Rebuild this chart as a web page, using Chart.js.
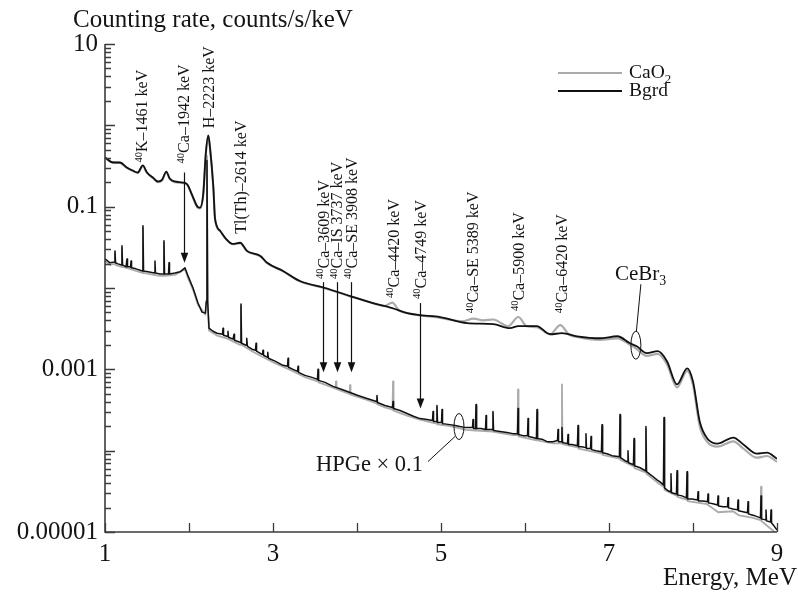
<!DOCTYPE html>
<html><head><meta charset="utf-8">
<script src="https://cdn.jsdelivr.net/npm/chart.js@4.4.1/dist/chart.umd.min.js"></script>
<style>html,body{margin:0;padding:0;background:#fff}canvas{display:block}</style>
</head><body>
<canvas id="c" width="798" height="593"></canvas>
<script>
const FONT = '"Liberation Serif", "Times New Roman", serif';

// ---- Data: [energy (MeV), counting rate (counts/s/keV)] ----
const cebr3Bgrd = [[1.00,0.403],[1.095,0.349],[1.18,0.349],[1.26,0.303],[1.33,0.278],[1.39,0.263],[1.45,0.321],[1.50,0.263],[1.57,0.228],[1.63,0.204],
[1.68,0.215],[1.73,0.270],[1.77,0.222],[1.83,0.204],[1.93,0.198],[1.98,0.187],[2.04,0.137],[2.10,0.100],[2.13,0.0972],[2.17,0.145],
[2.20,0.451],[2.23,0.753],[2.25,0.535],[2.29,0.172],[2.31,0.0711],[2.37,0.0506],[2.44,0.0403],[2.52,0.0349],[2.61,0.0360],[2.69,0.0286],
[2.85,0.0248],[2.93,0.0204],[3.12,0.0162],[3.32,0.0122],[3.62,0.0100],[3.92,0.00796],[4.19,0.00653],[4.42,0.00566],[4.60,0.00491],[4.75,0.00464],
[4.99,0.00439],[5.31,0.00370],[5.62,0.00360],[5.82,0.00321],[5.92,0.00340],[6.14,0.00340],[6.30,0.00270],[6.44,0.00278],[6.62,0.00255],[6.89,0.00241],
[7.10,0.00255],[7.25,0.00209],[7.33,0.00192],[7.45,0.00158],[7.58,0.00167],[7.69,0.00126],[7.81,0.000653],[7.93,0.00103],[8.00,0.000711],[8.08,0.000228],
[8.17,0.000141],[8.29,0.000122],[8.48,0.000145],[8.60,0.000119],[8.76,0.0000918],[8.88,0.0000944],[9.00,0.0000796]];

const cebr3CaO2 = [[1.00,0.40],[1.095,0.35],[1.18,0.345],[1.26,0.30],[1.33,0.275],[1.39,0.26],[1.45,0.315],[1.50,0.26],[1.57,0.225],[1.63,0.20],
[1.68,0.21],[1.73,0.265],[1.77,0.22],[1.83,0.20],[1.93,0.195],[1.98,0.185],[2.04,0.135],[2.10,0.098],[2.13,0.095],[2.17,0.14],
[2.20,0.44],[2.23,0.74],[2.25,0.52],[2.29,0.17],[2.31,0.070],[2.37,0.050],[2.44,0.040],[2.52,0.0345],[2.61,0.0355],[2.69,0.0283],
[2.85,0.0245],[2.93,0.0202],[3.12,0.0160],[3.32,0.0121],[3.62,0.0099],[3.92,0.0079],[4.19,0.0065],[4.32,0.0060],[4.42,0.0066],[4.50,0.0053],
[4.60,0.0049],[4.75,0.0046],[4.99,0.0043],[5.25,0.0039],[5.39,0.0042],[5.50,0.0040],[5.62,0.0041],[5.80,0.0034],[5.92,0.0044],[6.02,0.0034],
[6.14,0.0033],[6.30,0.0027],[6.42,0.0035],[6.52,0.0027],[6.62,0.0025],[6.89,0.0023],[7.10,0.0024],[7.25,0.0020],[7.33,0.00178],[7.45,0.00146],
[7.58,0.00155],[7.69,0.00116],[7.81,0.00060],[7.93,0.00096],[8.00,0.00064],[8.08,0.00020],[8.17,0.000128],[8.29,0.000112],[8.48,0.000130],[8.60,0.000106],
[8.76,0.000082],[8.88,0.000086],[9.00,0.000073]];

const hpgeBgrd = [[1.000,0.0228],[1.060,0.0204],[1.113,0.0209],[1.119,0.0286],[1.125,0.0204],[1.155,0.0198],[1.196,0.0192],[1.202,0.0330],[1.208,0.0192],[1.250,0.0182],
[1.256,0.0182],[1.262,0.0228],[1.268,0.0182],[1.298,0.0182],[1.304,0.0180],[1.310,0.0215],[1.316,0.0177],[1.369,0.0172],[1.446,0.0162],[1.452,0.0583],
[1.458,0.0162],[1.512,0.0158],[1.589,0.0153],[1.595,0.0215],[1.601,0.0153],[1.655,0.0149],[1.696,0.0149],[1.702,0.0380],[1.708,0.0149],[1.756,0.0149],
[1.762,0.0204],[1.768,0.0149],[1.833,0.0153],[1.893,0.0158],[1.952,0.0177],[1.988,0.0141],[2.048,0.0100],[2.107,0.00653],[2.155,0.00505],[2.195,0.00491],
[2.206,0.00691],[2.214,0.370],[2.222,0.00691],[2.238,0.00321],[2.286,0.00294],[2.333,0.00278],[2.399,0.00270],[2.405,0.00321],[2.411,0.00263],[2.452,0.00255],
[2.458,0.00255],[2.464,0.00294],[2.470,0.00248],[2.524,0.00235],[2.530,0.00235],[2.536,0.00270],[2.542,0.00228],[2.607,0.00215],[2.613,0.00215],[2.619,0.00635],
[2.625,0.00209],[2.679,0.00198],[2.684,0.00198],[2.690,0.00241],[2.696,0.00192],[2.750,0.00177],[2.792,0.00172],[2.798,0.00209],[2.804,0.00167],[2.869,0.00153],
[2.875,0.00153],[2.881,0.00172],[2.887,0.00149],[2.929,0.00141],[2.934,0.00141],[2.940,0.00162],[2.946,0.00137],[3.024,0.00126],[3.119,0.00112],[3.173,0.00109],
[3.179,0.00137],[3.185,0.00106],[3.238,0.00100],[3.292,0.000945],[3.298,0.00109],[3.304,0.000918],[3.381,0.000843],[3.464,0.000797],[3.530,0.000753],[3.536,0.00100],
[3.542,0.000732],[3.619,0.000691],[3.714,0.000617],[3.750,0.000600],[3.821,0.000566],[3.917,0.000520],[4.012,0.000477],[4.119,0.000438],[4.232,0.000402],[4.238,0.000477],
[4.244,0.000391],[4.333,0.000359],[4.423,0.000339],[4.429,0.000402],[4.435,0.000330],[4.512,0.000312],[4.595,0.000286],[4.679,0.000263],[4.750,0.000248],[4.833,0.000241],
[4.899,0.000235],[4.905,0.000303],[4.911,0.000228],[4.946,0.000228],[4.952,0.000359],[4.958,0.000222],[5.006,0.000222],[5.012,0.000321],[5.018,0.000215],[5.107,0.000209],
[5.167,0.000204],[5.226,0.000198],[5.298,0.000192],[5.375,0.000192],[5.381,0.000241],[5.387,0.000187],[5.411,0.000187],[5.417,0.000370],[5.423,0.000187],[5.476,0.000187],
[5.530,0.000182],[5.536,0.000270],[5.542,0.000182],[5.613,0.000182],[5.619,0.000303],[5.625,0.000177],[5.702,0.000172],[5.786,0.000167],[5.857,0.000162],[5.911,0.000162],
[5.917,0.000330],[5.923,0.000158],[5.976,0.000153],[6.030,0.000153],[6.036,0.000248],[6.042,0.000149],[6.095,0.000145],[6.137,0.000141],[6.143,0.000321],[6.149,0.000141],
[6.214,0.000137],[6.262,0.000129],[6.333,0.000129],[6.387,0.000133],[6.393,0.000182],[6.399,0.000129],[6.434,0.000129],[6.440,0.000192],[6.446,0.000126],[6.506,0.000122],
[6.512,0.000158],[6.518,0.000119],[6.560,0.000119],[6.625,0.000115],[6.631,0.000204],[6.637,0.000112],[6.679,0.000112],[6.720,0.000109],[6.726,0.000162],[6.732,0.000106],
[6.780,0.000106],[6.786,0.000149],[6.792,0.000103],[6.845,0.000100],[6.911,0.0000972],[6.917,0.000209],[6.923,0.0000945],[6.976,0.0000918],[7.036,0.0000868],[7.125,0.0000843],
[7.131,0.000278],[7.137,0.0000820],[7.190,0.0000753],[7.220,0.0000732],[7.226,0.000100],[7.232,0.0000711],[7.292,0.0000672],[7.298,0.000141],[7.304,0.0000653],[7.369,0.0000617],
[7.434,0.0000566],[7.440,0.000198],[7.446,0.0000551],[7.512,0.0000491],[7.571,0.0000438],[7.607,0.0000414],[7.649,0.0000380],[7.655,0.000255],[7.661,0.0000349],[7.702,0.0000321],
[7.732,0.0000312],[7.738,0.0000520],[7.744,0.0000303],[7.804,0.0000294],[7.810,0.0000566],[7.816,0.0000286],[7.869,0.0000278],[7.923,0.0000263],[7.929,0.0000551],[7.935,0.0000255],
[7.988,0.0000255],[8.054,0.0000248],[8.060,0.0000312],[8.066,0.0000241],[8.119,0.0000241],[8.173,0.0000235],[8.179,0.0000294],[8.185,0.0000228],[8.238,0.0000222],[8.292,0.0000215],
[8.298,0.0000278],[8.304,0.0000209],[8.357,0.0000204],[8.411,0.0000204],[8.417,0.0000263],[8.423,0.0000198],[8.476,0.0000192],[8.530,0.0000187],[8.536,0.0000248],[8.542,0.0000182],
[8.595,0.0000177],[8.649,0.0000172],[8.655,0.0000235],[8.661,0.0000167],[8.702,0.0000162],[8.738,0.0000158],[8.804,0.0000149],[8.810,0.0000278],[8.816,0.0000145],[8.863,0.0000141],
[8.869,0.0000187],[8.875,0.0000137],[8.923,0.0000133],[8.929,0.0000187],[8.935,0.0000129],[8.964,0.0000119],[9.000,0.0000106]];

const hpgeCaO2 = [[1.000,0.0215],[1.060,0.0192],[1.113,0.0198],[1.119,0.0270],[1.125,0.0192],[1.196,0.0182],[1.202,0.0310],[1.208,0.0182],[1.298,0.0172],[1.369,0.0162],
[1.446,0.0153],[1.452,0.0550],[1.458,0.0153],[1.583,0.0145],[1.655,0.0141],[1.696,0.0141],[1.702,0.0360],[1.708,0.0141],[1.833,0.0145],[1.952,0.0170],
[1.988,0.0133],[2.048,0.0095],[2.107,0.0062],[2.195,0.0047],[2.206,0.0066],[2.214,0.42],[2.222,0.0066],[2.238,0.0030],[2.333,0.0026],[2.452,0.0024],
[2.607,0.0020],[2.613,0.0020],[2.619,0.0060],[2.625,0.0020],[2.750,0.00167],[2.929,0.00133],[3.024,0.00119],[3.238,0.00095],[3.381,0.00080],[3.530,0.00071],
[3.536,0.00095],[3.542,0.00069],[3.619,0.00065],[3.744,0.00058],[3.750,0.00071],[3.756,0.00057],[3.821,0.00054],[3.911,0.00050],[3.917,0.00064],[3.923,0.00049],
[4.119,0.00042],[4.232,0.00038],[4.238,0.00045],[4.244,0.00037],[4.333,0.00034],[4.423,0.00032],[4.429,0.00071],[4.435,0.00031],[4.595,0.00027],[4.750,0.00024],
[4.946,0.000215],[4.952,0.00034],[4.958,0.00021],[5.107,0.00020],[5.298,0.00018],[5.411,0.000177],[5.417,0.00035],[5.423,0.000177],[5.613,0.000172],[5.619,0.00029],
[5.625,0.00017],[5.857,0.000155],[5.911,0.000155],[5.917,0.000566],[5.923,0.00015],[6.137,0.000134],[6.143,0.00030],[6.149,0.000134],[6.333,0.000123],[6.434,0.000123],
[6.440,0.000653],[6.446,0.00012],[6.625,0.00011],[6.631,0.00019],[6.637,0.000106],[6.845,0.000095],[6.911,0.000092],[6.917,0.000198],[6.923,0.000089],[7.125,0.000080],
[7.131,0.00026],[7.137,0.000077],[7.292,0.000064],[7.298,0.000133],[7.304,0.000061],[7.434,0.000054],[7.440,0.000187],[7.446,0.000052],[7.571,0.000041],[7.649,0.000036],
[7.655,0.00024],[7.661,0.000033],[7.804,0.000028],[7.810,0.000053],[7.816,0.000027],[7.923,0.000025],[7.929,0.000052],[7.935,0.000024],[8.167,0.000022],[8.300,0.0000175],
[8.476,0.000018],[8.550,0.0000160],[8.702,0.000015],[8.804,0.000014],[8.810,0.000036],[8.816,0.0000136],[8.900,0.0000115],[9.000,0.0000095]];

// ---- Axis ticks ----
const xTickValues = [1,2,3,4,5,6,7,8,9];
const xTickLabels = ['1','','3','','5','','7','','9'];
const yTickValues = [0.00001,0.0001,0.001,0.01,0.1,1,10];
const yTickLabels = ['0.00001','','0.001','','0.1','','10'];

// ---- Peak annotations: label, energy (MeV), rate at label foot ----
const peakLabels = [
  {parts:[['40','sup'],['K–1461 keV','']], e:1.44, v:0.349},
  {parts:[['40','sup'],['Ca–1942 keV','']], e:1.94, v:0.340},
  {parts:[['H–2223 keV','']], e:2.23, v:0.918},
  {parts:[['Tl(Th)–2614 keV','']], e:2.61, v:0.0464},
  {parts:[['40','sup'],['Ca–3609 keV','']], e:3.60, v:0.0129},
  {parts:[['40','sup'],['Ca–IS 3737 keV','']], e:3.76, v:0.0129},
  {parts:[['40','sup'],['Ca–SE 3908 keV','']], e:3.93, v:0.0129},
  {parts:[['40','sup'],['Ca–4420 keV','']], e:4.43, v:0.00753},
  {parts:[['40','sup'],['Ca–4749 keV','']], e:4.75, v:0.00732},
  {parts:[['40','sup'],['Ca–SE 5389 keV','']], e:5.38, v:0.00491},
  {parts:[['40','sup'],['Ca–5900 keV','']], e:5.92, v:0.00520},
  {parts:[['40','sup'],['Ca–6420 keV','']], e:6.44, v:0.00491}
];
const arrows = [
  {e:1.94, from:0.263, to:0.0204},
  {e:3.60, from:0.0118, to:0.000918},
  {e:3.76, from:0.0118, to:0.000918},
  {e:3.93, from:0.0118, to:0.000918},
  {e:4.75, from:0.00653, to:0.000330}
];

const toXY = arr => arr.map(p => ({x:p[0], y:p[1]}));

function drawRich(ctx, parts, x, y, size) {
  let cx = x;
  for (const [t, mode] of parts) {
    const fs = mode ? size * 0.66 : size;
    ctx.font = fs + 'px ' + FONT;
    const dy = mode === 'sup' ? -size * 0.36 : (mode === 'sub' ? size * 0.24 : 0);
    ctx.fillText(t, cx, y + dy);
    cx += ctx.measureText(t).width;
  }
  return cx - x;
}
function richWidth(ctx, parts, size) {
  let w = 0;
  for (const [t, mode] of parts) {
    ctx.font = (mode ? size * 0.66 : size) + 'px ' + FONT;
    w += ctx.measureText(t).width;
  }
  return w;
}

const decor = {
  id: 'decor',
  afterDraw(chart) {
    const {ctx, chartArea: a, scales: {x, y}} = chart;
    ctx.save();
    // axes
    ctx.strokeStyle = '#3c3c3c';
    ctx.lineWidth = 1.6;
    ctx.beginPath();
    ctx.moveTo(a.left, a.top); ctx.lineTo(a.left, a.bottom); ctx.lineTo(a.right, a.bottom);
    ctx.stroke();
    ctx.lineWidth = 1.3;
    ctx.beginPath();
    for (let n = -5; n <= 1; n++) {
      const d = Math.pow(10, n);
      const p = Math.round(y.getPixelForValue(d)) + 0.5;
      ctx.moveTo(a.left, p); ctx.lineTo(a.left + 10, p);
      if (n < 1) for (let m = 2; m <= 9; m++) {
        const q = Math.round(y.getPixelForValue(m * d)) + 0.5;
        ctx.moveTo(a.left, q); ctx.lineTo(a.left + 6, q);
      }
    }
    for (const v of xTickValues) {
      const p = Math.round(x.getPixelForValue(v)) + 0.5;
      ctx.moveTo(p, a.bottom); ctx.lineTo(p, a.bottom - 9);
    }
    ctx.stroke();

    // titles
    ctx.fillStyle = '#141414';
    ctx.textBaseline = 'alphabetic';
    ctx.font = '25px ' + FONT;
    ctx.textAlign = 'left';
    ctx.fillText('Counting rate, counts/s/keV', 73, 27);
    ctx.textAlign = 'right';
    ctx.fillText('Energy, MeV', 797, 585);
    ctx.textAlign = 'left';

    // legend
    ctx.lineWidth = 2.2; ctx.strokeStyle = '#aaaaaa';
    ctx.beginPath(); ctx.moveTo(558, 73); ctx.lineTo(622, 73); ctx.stroke();
    ctx.lineWidth = 1.8; ctx.strokeStyle = '#111';
    ctx.beginPath(); ctx.moveTo(558, 91); ctx.lineTo(622, 91); ctx.stroke();
    drawRich(ctx, [['CaO',''],['2','sub']], 629, 78, 19.5);
    drawRich(ctx, [['Bgrd','']], 629, 96, 19.5);

    // peak labels (rotated)
    for (const L of peakLabels) {
      const px = x.getPixelForValue(L.e), py = y.getPixelForValue(L.v);
      ctx.save();
      ctx.translate(px, py);
      ctx.rotate(-Math.PI / 2);
      drawRich(ctx, L.parts, 0, 5.5, 16);
      ctx.restore();
    }
    // arrows
    ctx.strokeStyle = '#111'; ctx.fillStyle = '#111'; ctx.lineWidth = 1.2;
    for (const A of arrows) {
      const px = Math.round(x.getPixelForValue(A.e)) + 0.5;
      const y1 = y.getPixelForValue(A.from), y2 = y.getPixelForValue(A.to);
      ctx.beginPath(); ctx.moveTo(px, y1); ctx.lineTo(px, y2 - 8); ctx.stroke();
      ctx.beginPath(); ctx.moveTo(px, y2); ctx.lineTo(px - 3.8, y2 - 10); ctx.lineTo(px + 3.8, y2 - 10); ctx.closePath(); ctx.fill();
    }
    // CeBr3 marker
    ctx.lineWidth = 1;
    let cx = x.getPixelForValue(7.32), cy = y.getPixelForValue(0.00198);
    ctx.beginPath(); ctx.ellipse(cx, cy, 5, 14, 0, 0, Math.PI * 2); ctx.stroke();
    ctx.beginPath(); ctx.moveTo(cx + 0.5, cy - 14); ctx.lineTo(cx + 5, cy - 61); ctx.stroke();
    ctx.fillStyle = '#141414';
    drawRich(ctx, [['CeBr',''],['3','sub']], cx - 21, cy - 65, 21);
    // HPGe marker
    cx = x.getPixelForValue(5.214); cy = y.getPixelForValue(0.000198);
    ctx.beginPath(); ctx.ellipse(cx, cy, 5, 13, 0, 0, Math.PI * 2); ctx.stroke();
    ctx.beginPath(); ctx.moveTo(cx - 4, cy + 10); ctx.lineTo(cx - 31, cy + 35); ctx.stroke();
    const hp = [['HPGe × 0.1','']];
    drawRich(ctx, hp, cx - 36 - richWidth(ctx, hp, 22.5), cy + 44, 22.5);
    ctx.restore();
  }
};

new Chart(document.getElementById('c'), {
  type: 'line',
  data: {
    datasets: [
      {label: 'Bgrd (CeBr3)', data: toXY(cebr3Bgrd), borderColor: '#111', borderWidth: 1.8, cubicInterpolationMode: 'monotone', order: 0},
      {label: 'Bgrd (HPGe × 0.1)', data: toXY(hpgeBgrd), borderColor: '#111', borderWidth: 1.5, tension: 0, order: 1},
      {label: 'CaO2 (CeBr3)', data: toXY(cebr3CaO2), borderColor: '#ababab', borderWidth: 2.2, cubicInterpolationMode: 'monotone', order: 2},
      {label: 'CaO2 (HPGe × 0.1)', data: toXY(hpgeCaO2), borderColor: '#ababab', borderWidth: 1.8, tension: 0, order: 3}
    ]
  },
  options: {
    responsive: false, animation: false, devicePixelRatio: 1,
    layout: {padding: {top: 44, right: 21, left: 0, bottom: 0}},
    plugins: {legend: {display: false}, tooltip: {enabled: false}},
    elements: {point: {radius: 0}, line: {borderJoinStyle: 'round', fill: false}},
    scales: {
      x: {
        type: 'linear', min: 1, max: 9,
        grid: {display: false, drawTicks: false}, border: {display: false},
        afterBuildTicks: s => { s.ticks = xTickValues.map(v => ({value: v})); },
        afterFit: s => { s.height = 61; },
        ticks: {padding: 7, color: '#141414', font: {size: 25, family: FONT}, maxRotation: 0, autoSkip: false,
          callback: (v, i) => xTickLabels[i]}
      },
      y: {
        type: 'logarithmic', min: 0.00001, max: 10,
        grid: {display: false, drawTicks: false}, border: {display: false},
        afterBuildTicks: s => { s.ticks = yTickValues.map(v => ({value: v})); },
        afterFit: s => { s.width = 105; },
        ticks: {padding: 7, color: '#141414', font: {size: 25, family: FONT}, autoSkip: false,
          callback: (v, i) => yTickLabels[i]}
      }
    }
  },
  plugins: [decor]
});
</script>
</body></html>
